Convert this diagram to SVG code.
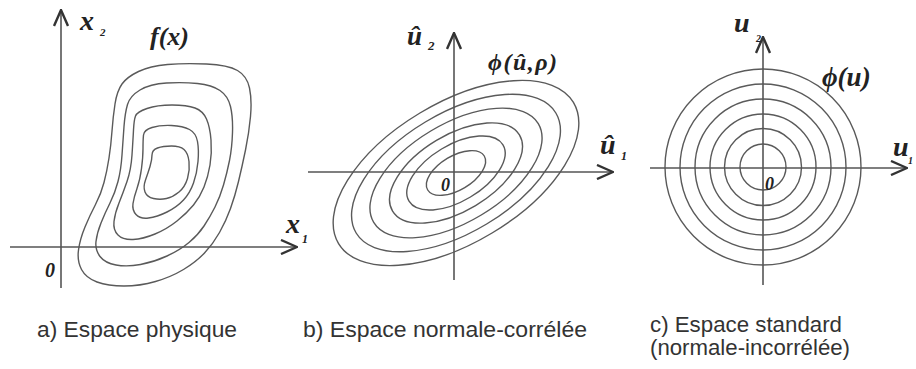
<svg xmlns="http://www.w3.org/2000/svg" width="916" height="369" viewBox="0 0 916 369">
<style>
.ax{fill:none;stroke:#555;stroke-width:1.6}
.ct{fill:none;stroke:#5a5a5a;stroke-width:1.4}
.lb{font-family:"Liberation Serif","Times New Roman",serif;font-style:italic;font-weight:bold;fill:#222}
.cap{font-family:"Liberation Sans",Arial,sans-serif;font-size:22px;fill:#333}
</style>
<defs>
<marker id="arr" viewBox="0 0 18 16" refX="17" refY="8" markerWidth="18" markerHeight="16" markerUnits="userSpaceOnUse" orient="auto">
<path d="M1,1 L17,8 L1,15" fill="none" stroke="#333" stroke-width="2.4" stroke-linejoin="miter"/>
</marker>
</defs>
<rect width="916" height="369" fill="#fff"/>

<g id="panel-a">
<g id="contours-a">
<path class="ct" d="M122,84 Q127,77 138.5,71.5 Q150,66 167.5,64.5 Q185,63 206.5,64 Q228,65 237.5,70.5 Q247,76 249.5,88 Q252,100 250.5,116.5 Q249,133 245.5,150 Q242,167 238.5,181.5 Q235,196 230.5,208.5 Q226,221 219.5,232.5 Q213,244 204.5,253 Q196,262 183.5,269.5 Q171,277 155.5,281.5 Q140,286 124,286 Q108,286 97,282 Q86,278 81.5,269.5 Q77,261 78.5,250 Q80,239 85,227 Q90,215 95.5,204.5 Q101,194 104,182.5 Q107,171 109,158 Q111,145 112,131 Q113,117 115,104 Q117,91 122,84 Z"/>
<path class="ct" d="M127.5,104.5 Q130,96 140,90 Q150,84 166.5,83 Q183,82 197.5,83.5 Q212,85 220,90.5 Q228,96 230.5,106.5 Q233,117 232.5,132.5 Q232,148 229.5,160.5 Q227,173 223.5,185 Q220,197 215,207 Q210,217 204,226 Q198,235 189,242.5 Q180,250 167,256 Q154,262 140.5,264.5 Q127,267 116,265 Q105,263 100,256.5 Q95,250 96,241.5 Q97,233 101,223 Q105,213 110,203 Q115,193 118,181.5 Q121,170 122,155 Q123,140 124,126.5 Q125,113 127.5,104.5 Z"/>
<path class="ct" d="M135.5,116 Q137,112 147,108.5 Q157,105 172,105 Q187,105 195,108 Q203,111 206.5,119 Q210,127 211,140 Q212,153 210,165 Q208,177 204,187 Q200,197 193.5,205 Q187,213 177,221 Q167,229 155,234 Q143,239 133,239.5 Q123,240 118,235 Q113,230 114,221.5 Q115,213 119,203 Q123,193 127,181.5 Q131,170 132,155 Q133,140 133.5,130 Q134,120 135.5,116 Z"/>
<path class="ct" d="M143.5,135 Q144,130 152,127.5 Q160,125 171.5,125.5 Q183,126 189.5,129.5 Q196,133 197.5,141.5 Q199,150 198,161.5 Q197,173 193.5,183 Q190,193 183.5,200 Q177,207 167,212 Q157,217 148.5,218 Q140,219 136,214.5 Q132,210 133,203.5 Q134,197 137,188.5 Q140,180 141.5,168.5 Q143,157 143,148.5 Q143,140 143.5,135 Z"/>
<path class="ct" d="M152,155 Q152,150 157.5,148 Q163,146 171.5,146 Q180,146 184,149.5 Q188,153 189,161.5 Q190,170 187.5,178.5 Q185,187 179,192 Q173,197 166.5,198.5 Q160,200 153.5,198.5 Q147,197 145,192 Q143,187 145.5,180 Q148,173 150,166.5 Q152,160 152,155 Z"/>
</g>
<g id="axes-a">
<line class="ax" x1="61" y1="288" x2="61" y2="10" marker-end="url(#arr)"/>
<line class="ax" x1="10" y1="247" x2="297" y2="247" marker-end="url(#arr)"/>
</g>
<text class="lb" x="80" y="30" font-size="28">x</text>
<text class="lb" x="100" y="36" font-size="11">2</text>
<text class="lb" x="150" y="45" font-size="26">f(x)</text>
<text class="lb" x="286" y="233" font-size="28">x</text>
<text class="lb" x="302" y="243" font-size="12">1</text>
<text class="lb" x="45" y="277" font-size="20">0</text>
</g>

<g id="panel-b">
<g id="contours-b" transform="translate(456,173) rotate(-31)">
<ellipse class="ct" cx="0" cy="0" rx="137" ry="70"/>
<ellipse class="ct" cx="0" cy="0" rx="116.5" ry="59.5"/>
<ellipse class="ct" cx="0" cy="0" rx="96" ry="49"/>
<ellipse class="ct" cx="0" cy="0" rx="74" ry="38"/>
<ellipse class="ct" cx="0" cy="0" rx="54.8" ry="28"/>
<ellipse class="ct" cx="0" cy="0" rx="33" ry="17"/>
</g>
<g id="axes-b">
<line class="ax" x1="454" y1="280" x2="454" y2="33" marker-end="url(#arr)"/>
<line class="ax" x1="308" y1="172" x2="613" y2="172" marker-end="url(#arr)"/>
</g>
<text class="lb" x="407" y="45" font-size="27">û</text>
<text class="lb" x="428" y="50" font-size="13">2</text>
<text class="lb" x="488" y="70" font-size="24" letter-spacing="1.5">ϕ(û,ρ)</text>
<text class="lb" x="600" y="154" font-size="28">û</text>
<text class="lb" x="621" y="160" font-size="12">1</text>
<text class="lb" x="441" y="191" font-size="18">0</text>
</g>

<g id="panel-c">
<g id="contours-c">
<circle class="ct" cx="763" cy="167" r="98"/>
<circle class="ct" cx="763" cy="167" r="83"/>
<circle class="ct" cx="763" cy="167" r="68"/>
<circle class="ct" cx="763" cy="167" r="53"/>
<circle class="ct" cx="763" cy="167" r="38.5"/>
<circle class="ct" cx="763" cy="167" r="23"/>
</g>
<g id="axes-c">
<line class="ax" x1="763" y1="285" x2="763" y2="37" marker-end="url(#arr)"/>
<line class="ax" x1="650" y1="168" x2="907" y2="168" marker-end="url(#arr)"/>
</g>
<text class="lb" x="734" y="32" font-size="28">u</text>
<text class="lb" x="756" y="42" font-size="10">2</text>
<text class="lb" x="822" y="86" font-size="27">ϕ(u)</text>
<text class="lb" x="893" y="156" font-size="28">u</text>
<text class="lb" x="908" y="164" font-size="10">1</text>
<text class="lb" x="765" y="190" font-size="18">0</text>
</g>

<g id="captions">
<text class="cap" x="37" y="337" textLength="200" lengthAdjust="spacingAndGlyphs">a) Espace physique</text>
<text class="cap" x="303" y="337" textLength="284" lengthAdjust="spacingAndGlyphs">b) Espace normale-corrélée</text>
<text class="cap" x="650" y="332" textLength="192" lengthAdjust="spacingAndGlyphs">c) Espace standard</text>
<text class="cap" x="650" y="355" textLength="200" lengthAdjust="spacingAndGlyphs">(normale-incorrélée)</text>
</g>
</svg>
